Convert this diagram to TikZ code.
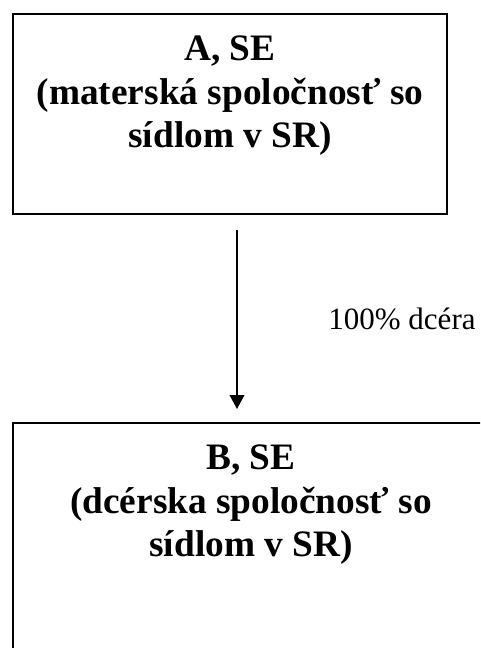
\documentclass[tikz,border=0pt]{standalone}
\usepackage{fontspec}
\setmainfont{Liberation Serif}
\usetikzlibrary{arrows.meta}
\tikzset{
  firmbox/.style={draw, line width=1.5pt, inner sep=0pt, outer sep=0pt},
  firmtext/.style={align=center, inner sep=0pt, font=\fontsize{28}{32.6}\selectfont\bfseries},
  link/.style={-{Triangle[width=11pt,length=10.5pt]}, line width=1.1pt},
}
\begin{document}
\begin{tikzpicture}[x=0.75pt,y=-0.75pt]
  \useasboundingbox (0,0) rectangle (480,648);
  \clip (0,0) rectangle (480,648);
  % parent company
  \node[firmbox, minimum width=325.5pt, minimum height=150pt] (parent) at (230,114) {};
  \node[firmtext, anchor=north] (parenttext) at (230,36) {A, SE\\(materská spoločnosť so\\sídlom v SR)};
  % daughter company
  \node[firmbox, minimum width=357pt, minimum height=195pt] (child) at (251,553) {};
  \node[firmtext, anchor=north] (childtext) at (251,445) {B, SE\\(dcérska spoločnosť so\\sídlom v SR)};
  % ownership link
  \coordinate (stem) at (237,0);
  \draw[link, shorten <=12pt, shorten >=10.5pt] (parent.south -| stem) -- (child.north -| stem)
     node[midway, right=68pt, inner sep=0pt, font=\fontsize{23.25}{28}\selectfont] (share) {100\% dcéra};
\end{tikzpicture}
\end{document}
